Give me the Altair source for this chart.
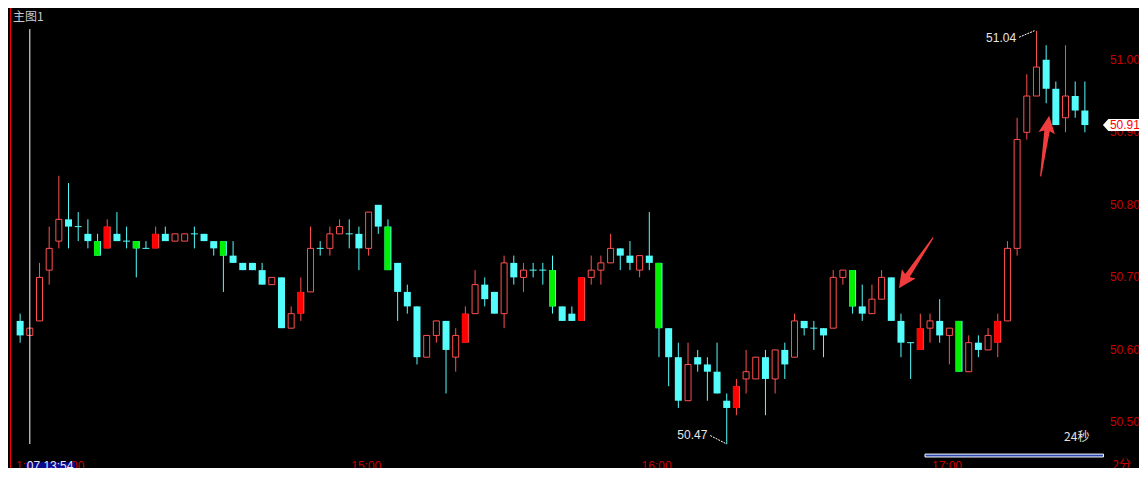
import altair as alt
import pandas as pd

# ---------------- data ----------------
opens = [50.64, 50.62, 50.64, 50.71, 50.75, 50.78, 50.77, 50.76, 50.75, 50.74,
         50.76, 50.75, 50.75, 50.74, 50.74, 50.76, 50.75, 50.75, 50.76, 50.76,
         50.75, 50.75, 50.73, 50.72, 50.72, 50.71, 50.69, 50.70, 50.63, 50.65,
         50.68, 50.74, 50.74, 50.76, 50.76, 50.76, 50.74, 50.80, 50.77, 50.72,
         50.68, 50.66, 50.59, 50.62, 50.64, 50.59, 50.61, 50.65, 50.69, 50.68,
         50.65, 50.72, 50.70, 50.71, 50.71, 50.71, 50.66, 50.65, 50.64, 50.70,
         50.71, 50.72, 50.74, 50.73, 50.71, 50.73, 50.72, 50.63, 50.59, 50.53,
         50.59, 50.58, 50.57, 50.53, 50.52, 50.56, 50.56, 50.59, 50.56, 50.60,
         50.59, 50.64, 50.63, 50.63, 50.63, 50.70, 50.71, 50.66, 50.65, 50.67,
         50.70, 50.64, 50.61, 50.60, 50.63, 50.64, 50.62, 50.64, 50.57, 50.61,
         50.60, 50.61, 50.64, 50.74, 50.90, 50.95, 51.00, 50.96, 50.92, 50.95, 50.93]
highs = [50.65, 50.63, 50.72, 50.77, 50.84, 50.83, 50.79, 50.78, 50.76, 50.78,
         50.79, 50.77, 50.75, 50.75, 50.77, 50.77, 50.76, 50.76, 50.77, 50.76,
         50.75, 50.75, 50.75, 50.72, 50.72, 50.72, 50.70, 50.70, 50.66, 50.70,
         50.77, 50.75, 50.77, 50.78, 50.78, 50.77, 50.79, 50.80, 50.78, 50.72,
         50.69, 50.66, 50.62, 50.64, 50.64, 50.63, 50.66, 50.71, 50.70, 50.68,
         50.73, 50.73, 50.72, 50.72, 50.72, 50.73, 50.66, 50.66, 50.70, 50.73,
         50.73, 50.76, 50.74, 50.75, 50.73, 50.79, 50.72, 50.63, 50.61, 50.61,
         50.60, 50.59, 50.61, 50.54, 50.56, 50.60, 50.59, 50.60, 50.60, 50.61,
         50.65, 50.64, 50.64, 50.63, 50.71, 50.71, 50.71, 50.69, 50.69, 50.71,
         50.70, 50.65, 50.61, 50.65, 50.65, 50.67, 50.63, 50.64, 50.62, 50.62,
         50.63, 50.65, 50.75, 50.92, 50.98, 51.04, 51.02, 50.97, 51.02, 50.97, 50.97]
lows = [50.61, 50.62, 50.64, 50.69, 50.74, 50.74, 50.75, 50.74, 50.73, 50.74,
        50.75, 50.74, 50.70, 50.74, 50.74, 50.75, 50.75, 50.75, 50.74, 50.75,
        50.73, 50.68, 50.72, 50.71, 50.71, 50.69, 50.69, 50.63, 50.63, 50.64,
        50.68, 50.73, 50.73, 50.76, 50.74, 50.71, 50.73, 50.76, 50.71, 50.64,
        50.65, 50.58, 50.59, 50.61, 50.54, 50.57, 50.61, 50.65, 50.66, 50.65,
        50.63, 50.69, 50.68, 50.70, 50.69, 50.65, 50.64, 50.64, 50.64, 50.69,
        50.69, 50.72, 50.71, 50.71, 50.70, 50.71, 50.59, 50.55, 50.52, 50.53,
        50.57, 50.53, 50.54, 50.47, 50.51, 50.54, 50.56, 50.51, 50.54, 50.56,
        50.59, 50.62, 50.60, 50.59, 50.63, 50.69, 50.65, 50.64, 50.65, 50.67,
        50.64, 50.59, 50.56, 50.60, 50.61, 50.61, 50.58, 50.57, 50.57, 50.59,
        50.60, 50.59, 50.64, 50.73, 50.89, 50.95, 50.94, 50.91, 50.90, 50.92, 50.90]
closes = [50.62, 50.63, 50.70, 50.74, 50.78, 50.77, 50.77, 50.75, 50.73, 50.77,
          50.75, 50.75, 50.74, 50.74, 50.76, 50.75, 50.76, 50.76, 50.76, 50.75,
          50.74, 50.73, 50.72, 50.71, 50.71, 50.69, 50.70, 50.63, 50.65, 50.68,
          50.74, 50.74, 50.76, 50.77, 50.76, 50.74, 50.79, 50.77, 50.71, 50.68,
          50.66, 50.59, 50.62, 50.64, 50.60, 50.62, 50.65, 50.69, 50.67, 50.65,
          50.72, 50.70, 50.71, 50.71, 50.71, 50.66, 50.64, 50.64, 50.70, 50.71,
          50.72, 50.74, 50.73, 50.72, 50.73, 50.72, 50.63, 50.59, 50.53, 50.58,
          50.58, 50.57, 50.54, 50.52, 50.55, 50.57, 50.59, 50.56, 50.60, 50.58,
          50.64, 50.63, 50.63, 50.62, 50.70, 50.71, 50.66, 50.65, 50.67, 50.70,
          50.64, 50.61, 50.61, 50.63, 50.64, 50.62, 50.63, 50.57, 50.61, 50.60,
          50.62, 50.64, 50.74, 50.89, 50.95, 50.99, 50.96, 50.91, 50.95, 50.93, 50.91]
# d = down (cyan), u = up (hollow red), g = green filled, r = red filled, x = doji
kinds = ["d", "u", "u", "u", "u", "d", "x", "d", "g", "r",
         "d", "x", "g", "x", "r", "d", "u", "u", "x", "d",
         "d", "g", "d", "d", "d", "d", "u", "d", "u", "r",
         "u", "x", "u", "u", "x", "d", "u", "d", "g", "d",
         "d", "d", "u", "u", "d", "u", "r", "u", "d", "d",
         "u", "d", "u", "x", "x", "g", "d", "d", "r", "u",
         "u", "u", "d", "d", "u", "d", "g", "d", "d", "u",
         "d", "d", "d", "d", "r", "u", "u", "d", "u", "d",
         "u", "d", "x", "d", "u", "u", "g", "d", "u", "u",
         "d", "d", "x", "r", "u", "d", "u", "g", "u", "d",
         "u", "r", "u", "u", "u", "u", "d", "d", "u", "d", "d"]

price_ticks = [51.00, 50.90, 50.80, 50.70, 50.60, 50.50]
time_tick_idx = [34, 64, 94]
time_tick_labels = ["15:00", "16:00", "17:00"]

# extreme annotations: label anchor (index, price), leader start / end
ext_text = ["51.04", "50.47"]
ext_text_idx = [102.9, 71.0]
ext_text_price = [51.030, 50.483]
ext_lead_idx = [103.2, 71.3]
ext_lead_price = [51.031, 50.482]
ext_lead_idx2 = [104.8, 72.9]
ext_lead_price2 = [51.040, 50.471]

# red arrows (centre index, centre price, rotation)
arrow_idx = [92.56, 105.87]
arrow_price = [50.720, 50.881]
arrow_angle = [214.0, 8.0]

crosshair_idx = 1
last_price = closes[-1]

# ---------------- layout ----------------
W, H = 1131, 460           # chart fits the 1147x480 window with the 8px page margin
SX, SY = W / 1147.0, H / 480.0


def px(v):   # reference-pixel x -> chart x
    return round(v * SX, 2)


def py(v):   # reference-pixel y -> chart y
    return round(v * SY, 2)


CYAN = "#54FCFC"
RED_O = "#FF5050"
RED_F = "#FF0000"
GREEN = "#00F000"
AXIS_RED = "#C80000"
FONT = "Liberation Sans"
CJK = "Noto Sans CJK SC"

xs = alt.Scale(domain=[-0.737, 115.075], nice=False, zero=False)
ys = alt.Scale(domain=[50.43725, 51.07133], nice=False, zero=False)

df = pd.DataFrame({
    "idx": list(range(len(opens))),
    "open": opens, "high": highs, "low": lows, "close": closes, "kind": kinds,
})

X = alt.X("idx:Q", scale=xs, axis=None)


def sel(expr):
    return alt.Chart(df).transform_filter(expr)


wick_c = sel("datum.kind == 'd' || datum.kind == 'g' || datum.kind == 'x'").mark_rule(
    strokeWidth=1, color=CYAN).encode(x=X, y=alt.Y("low:Q", scale=ys, axis=None), y2="high:Q")
wick_r = sel("datum.kind == 'u' || datum.kind == 'r'").mark_rule(
    strokeWidth=1, color=RED_O).encode(x=X, y=alt.Y("low:Q", scale=ys, axis=None), y2="high:Q")

body_c = sel("datum.kind == 'd' || datum.kind == 'g'").mark_bar(size=7, color=CYAN).encode(
    x=X, y=alt.Y("open:Q", scale=ys, axis=None), y2="close:Q")
body_rb = sel("datum.kind == 'r'").mark_bar(size=7, color=RED_O).encode(
    x=X, y=alt.Y("open:Q", scale=ys, axis=None), y2="close:Q")
body_g = sel("datum.kind == 'g'").mark_bar(size=6, xOffset=-0.5, color=GREEN).encode(
    x=X, y=alt.Y("open:Q", scale=ys, axis=None), y2="close:Q")
body_r = sel("datum.kind == 'r'").mark_bar(size=6, xOffset=-0.5, color=RED_F).encode(
    x=X, y=alt.Y("open:Q", scale=ys, axis=None), y2="close:Q")
hollow = sel("datum.kind == 'u'").mark_bar(
    size=6, fill="#000000", stroke=RED_O, strokeWidth=1
).encode(x=X, y=alt.Y("open:Q", scale=ys, axis=None), y2="close:Q")
doji = sel("datum.kind == 'x'").mark_tick(
    orient="horizontal", size=7, thickness=1, color=CYAN, opacity=1
).encode(x=X, y=alt.Y("open:Q", scale=ys, axis=None))

one = pd.DataFrame({"k": [0]})

left_border = alt.Chart(one).mark_rule(color="#FF0000", strokeWidth=1).encode(
    x=alt.value(px(2.5)), y=alt.value(0), y2=alt.value(H))

crosshair = alt.Chart(one).mark_rule(color="#FFFFFF", strokeWidth=1).encode(
    x=alt.X(datum=crosshair_idx, scale=xs, axis=None),
    y=alt.value(py(22)), y2=alt.value(py(455)))

# right price axis labels
ptick_df = pd.DataFrame({"p": price_ticks, "lab": [f"{v:.2f}" for v in price_ticks]})
price_labels = alt.Chart(ptick_df).mark_text(
    align="left", baseline="middle", font=FONT, fontSize=12, color=AXIS_RED
).encode(x=alt.value(px(1117.5)), y=alt.Y("p:Q", scale=ys, axis=None), text="lab:N")

# current price marker
marker = alt.Chart(pd.DataFrame({"p": [last_price]})).mark_point(
    shape="M-1,0L-0.73,-0.3L1,-0.3L1,0.3L-0.73,0.3Z", size=1600,
    filled=True, fill="#FFFFFF", strokeWidth=0, opacity=1
).encode(x=alt.value(px(1130.7)), y=alt.Y("p:Q", scale=ys, axis=None))
marker_text = alt.Chart(pd.DataFrame({"p": [last_price], "lab": [f"{last_price:.2f}"]})).mark_text(
    align="left", baseline="middle", font=FONT, fontSize=12, color="#FF0000"
).encode(x=alt.value(px(1117.5)), y=alt.Y("p:Q", scale=ys, axis=None), text="lab:N")

# bottom time labels (cut by the bottom edge, as in the original)
tdf = pd.DataFrame({"i": time_tick_idx, "lab": time_tick_labels})
time_labels = alt.Chart(tdf).mark_text(
    align="left", baseline="top", dx=2, font=FONT, fontSize=12, color=AXIS_RED
).encode(x=alt.X("i:Q", scale=xs, axis=None), y=alt.value(py(472.5)), text="lab:N")

period_label = alt.Chart(one).mark_text(
    align="left", baseline="top", font=CJK, fontSize=12, color=AXIS_RED, text="2分"
).encode(x=alt.value(px(1120)), y=alt.value(py(472)))

left_frag = alt.Chart(one).mark_text(
    align="left", baseline="top", font=FONT, fontSize=12, color=AXIS_RED, text="1:"
).encode(x=alt.value(px(8)), y=alt.value(py(472.5)))
right_frag = alt.Chart(one).mark_text(
    align="left", baseline="top", font=FONT, fontSize=12, color=AXIS_RED, text="00"
).encode(x=alt.value(px(64)), y=alt.value(py(472.5)))
cross_box = alt.Chart(one).mark_rect(color="#0A0A8C").encode(
    x=alt.value(px(18)), x2=alt.value(px(68)), y=alt.value(py(474)), y2=alt.value(H + 2))
cross_text = alt.Chart(one).mark_text(
    align="left", baseline="top", font=FONT, fontSize=12, color="#E8E8F8", text="07 13:54"
).encode(x=alt.value(px(19)), y=alt.value(py(472.5)))

# extreme labels and leaders
edf = pd.DataFrame({"ti": ext_text_idx, "tp": ext_text_price, "lab": ext_text,
                    "a": ext_lead_idx, "ap": ext_lead_price,
                    "b": ext_lead_idx2, "bp": ext_lead_price2})
ext_labels = alt.Chart(edf).mark_text(
    align="right", baseline="middle", font=FONT, fontSize=12, color="#E6E6E6"
).encode(x=alt.X("ti:Q", scale=xs, axis=None), y=alt.Y("tp:Q", scale=ys, axis=None), text="lab:N")
ext_leaders = alt.Chart(edf).mark_rule(color="#FFFFFF", strokeWidth=1, strokeDash=[2, 1]).encode(
    x=alt.X("a:Q", scale=xs, axis=None), x2="b:Q",
    y=alt.Y("ap:Q", scale=ys, axis=None), y2="bp:Q")

# arrows
adf = pd.DataFrame({"i": arrow_idx, "p": arrow_price, "ang": arrow_angle})
arrows = alt.Chart(adf).mark_point(
    shape="M0,-1L0.27,-0.43L0.09,-0.5L0.02,1L-0.02,1L-0.09,-0.5L-0.27,-0.43Z",
    size=3750, filled=True, color="#F03C3C", opacity=1, strokeWidth=0
).encode(x=alt.X("i:Q", scale=xs, axis=None), y=alt.Y("p:Q", scale=ys, axis=None),
         angle=alt.Angle("ang:Q", scale=None))

# top-left title and countdown widget
title_txt = alt.Chart(one).mark_text(
    align="left", baseline="alphabetic", font=CJK, fontSize=12, color="#C8C8D0", text="主图1"
).encode(x=alt.value(px(5)), y=alt.value(py(13.5)))
countdown = alt.Chart(one).mark_text(
    align="left", baseline="middle", font=CJK, fontSize=12, color="#E0E0E0", text="24秒"
).encode(x=alt.value(px(1071)), y=alt.value(py(448)))
progress = alt.Chart(one).mark_rect(fill="#2A46B0", stroke="#FFFFFF", strokeWidth=1).encode(
    x=alt.value(px(930)), x2=alt.value(px(1111)), y=alt.value(py(465.5)), y2=alt.value(py(468.5)))

chart = alt.layer(
    wick_c, wick_r, body_c, body_rb, body_g, body_r, hollow, doji,
    left_border, crosshair,
    ext_leaders, ext_labels, arrows,
    price_labels, marker, marker_text,
    time_labels, period_label, left_frag, right_frag, cross_box, cross_text,
    title_txt, countdown, progress,
).properties(
    width=W, height=H, background="#000000", padding=0,
    autosize=alt.AutoSizeParams(type="none"),
).configure_view(strokeWidth=0)

chart.save("out.html", embed_options={"renderer": "svg", "actions": False})
